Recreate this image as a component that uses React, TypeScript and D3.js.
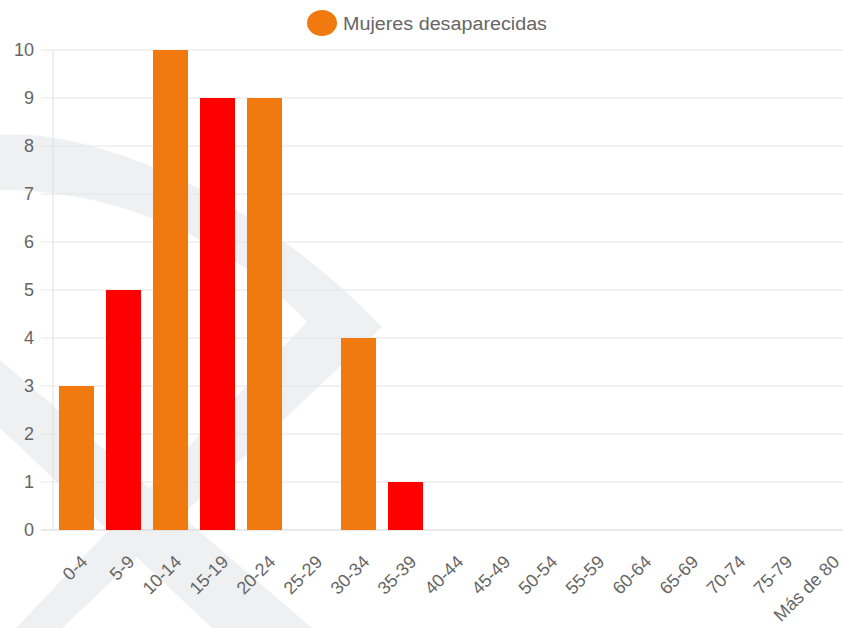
import React from "react";
import * as d3 from "d3";

const categories = ["0-4","5-9","10-14","15-19","20-24","25-29","30-34","35-39","40-44","45-49","50-54","55-59","60-64","65-69","70-74","75-79","Más de 80"];
const values = [3,5,10,9,9,0,4,1,0,0,0,0,0,0,0,0,0];
const barColors = ["#f07a0f","#ff0000"];
const yTicks = [0,1,2,3,4,5,6,7,8,9,10];
const seriesName = "Mujeres desaparecidas";

const W = 843, H = 628;
const FONT = "'Liberation Sans', Arial, sans-serif";

export default function App() {
  const x = d3.scaleBand<string>().domain(categories).range([53, 852]).padding(0);
  const y = d3.scaleLinear().domain([0, 10]).range([530, 50]);
  const bw = x.bandwidth() * 0.745;

  const wmA = "M0,135 C90,128 250,190 382,327 L62,628 L16,628 L307,322 C230,240 120,190 0,190 Z";
  const wmB = "M0,360 L312,628 L212,628 L0,428 Z";

  return (
    <svg width={W} height={H} style={{ position: "absolute", left: 0, top: 0, background: "#fff" }} fontFamily={FONT}>
      <g fill="#eff0f2">
        <path d={wmA} />
        <path d={wmB} />
      </g>
      {yTicks.map((t) => (
        <g key={t}>
          <line x1={41} x2={W} y1={y(t)} y2={y(t)} stroke={t === 0 ? "#d4d4d4" : "#e6e6e6"} strokeWidth={1} />
          <text x={34} y={y(t)} dy="0.36em" textAnchor="end" fontSize={18} fill="#666">{t}</text>
        </g>
      ))}
      <line x1={53} x2={53} y1={50} y2={530} stroke="#e0e0e0" strokeWidth={1} />
      {categories.map((c, i) => {
        const cx = (x(c) as number) + x.bandwidth() / 2;
        return (
          <g key={c}>
            {values[i] > 0 && (
              <rect x={cx - bw / 2} y={y(values[i])} width={bw} height={y(0) - y(values[i])} fill={barColors[i % 2]} />
            )}
            <text transform={`translate(${cx + 12},${563}) rotate(-45)`} textAnchor="end" fontSize={18} fill="#666">{c}</text>
          </g>
        );
      })}
      <ellipse cx={322} cy={23} rx={15} ry={13} fill={barColors[0]} />
      <text x={343} y={30} fontSize={18} fill="#666" textLength={204} lengthAdjust="spacingAndGlyphs">{seriesName}</text>
    </svg>
  );
}
